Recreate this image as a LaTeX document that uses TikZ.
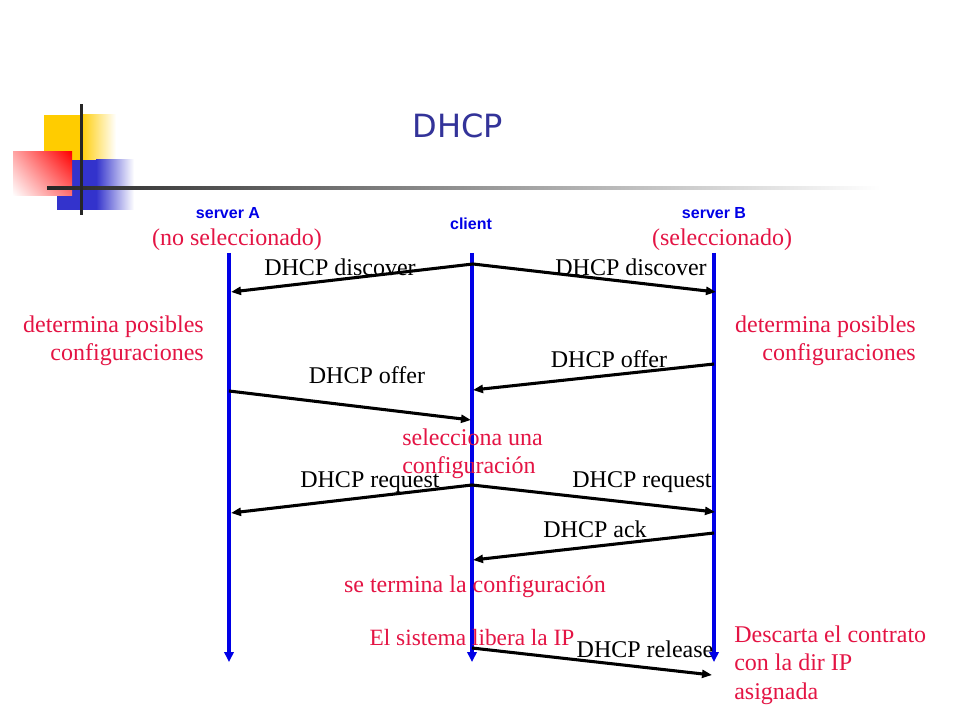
\documentclass[tikz,border=0pt]{standalone}
\usepackage{fontspec}
\setmainfont{Liberation Serif}
\newfontfamily\titlefont{DejaVu Sans}
\newfontfamily\labfont{Liberation Sans}
\usetikzlibrary{arrows.meta,shadings}
\definecolor{titleblue}{RGB}{51,51,153}
\definecolor{notered}{RGB}{228,20,68}
\definecolor{lifeblue}{RGB}{0,0,230}
\definecolor{logoyellow}{RGB}{255,204,0}
\definecolor{logoblue}{RGB}{51,51,204}
\definecolor{logored}{RGB}{255,0,0}
\begin{document}
\begin{tikzpicture}[x=0.75pt,y=-0.75pt,
  lifeline/.style={draw=lifeblue,line width=2.3pt,-{Triangle[length=7.5pt,width=7pt]}},
  msg/.style={draw=black,line width=2.3pt,-{Triangle[length=7.5pt,width=6pt]}},
  msglbl/.style={font=\fontsize{18}{21}\selectfont,inner sep=0pt,anchor=base},
  note/.style={font=\fontsize{18}{21}\selectfont,text=notered,inner sep=0pt},
  srv/.style={font=\labfont\bfseries\fontsize{12}{14}\selectfont,text=lifeblue,inner sep=0pt,anchor=base}]
\useasboundingbox (0,0) rectangle (960,720);
\fill[white] (0,0) rectangle (960,720);
% logo
\fill[logoyellow] (44,115) rectangle (80,160);
\shade[left color=logoyellow,right color=white] (80,115) rectangle (116,160);
\fill[logoblue] (57,160) rectangle (96,210);
\shade[left color=logoblue,right color=white] (96,160) rectangle (134,210);
\shade[upper right=logored,lower left=white,upper left=logored!35!white,lower right=logored!55!white] (13,152) rectangle (72,196);
\shade[left color=black!85,right color=white] (47,186.5) rectangle (880,189.5);
\fill[black!85] (79.5,104) rectangle (82.5,215);
% title
\node[font=\titlefont\fontsize{24}{28}\selectfont,text=titleblue,inner sep=0pt,anchor=base] (title) at (458,138) {DHCP};
% headers
\node[srv] (hA) at (228,219) {server A};
\node[srv] (hC) at (471,230) {client};
\node[srv] (hB) at (714,219) {server B};
\node[note,anchor=base] (nA) at (237,246) {(no seleccionado)};
\node[note,anchor=base] (nB) at (722,246) {(seleccionado)};
% lifelines
\coordinate (A0) at (229,253); \coordinate (A1) at (229,662);
\coordinate (C0) at (472,253); \coordinate (C1) at (472,662);
\coordinate (B0) at (714,253); \coordinate (B1) at (714,662);
\draw[lifeline] (A0) -- (A1);
\draw[lifeline] (C0) -- (C1);
\draw[lifeline] (B0) -- (B1);
% message end points
\coordinate (c1) at (473,264); \coordinate (a1) at (231,292); \coordinate (b1) at (716,292);
\coordinate (b2) at (714,364); \coordinate (c2) at (473,390);
\coordinate (a3) at (229,391); \coordinate (c3) at (471,420);
\coordinate (c4) at (472,485); \coordinate (a4) at (231,513); \coordinate (b4) at (715,512);
\coordinate (b5) at (714,533); \coordinate (c5) at (473,560);
\coordinate (c6) at (472,648); \coordinate (b6) at (712,675);
\draw[msg] (c1) -- (a1);
\draw[msg] (c1) -- (b1);
\draw[msg] (b2) -- (c2);
\draw[msg] (a3) -- (c3);
\draw[msg] (c4) -- (a4);
\draw[msg] (c4) -- (b4);
\draw[msg] (b5) -- (c5);
\draw[msg] (c6) -- (b6);
% message labels
\node[msglbl] (l1) at (340,276) {DHCP discover};
\node[msglbl] (l2) at (631,276) {DHCP discover};
\node[msglbl] (l3) at (609,367) {DHCP offer};
\node[msglbl] (l4) at (367,383) {DHCP offer};
\node[msglbl] (l5) at (370,487) {DHCP request};
\node[msglbl] (l6) at (642,487) {DHCP request};
\node[msglbl] (l7) at (595,537) {DHCP ack};
\node[msglbl] (l8) at (645,657) {DHCP release};
% notes
\node[note,anchor=base east] (dA1) at (204,332) {determina posibles};
\node[note,anchor=base east] (dA2) at (204,360) {configuraciones};
\node[note,anchor=base east] (dB1) at (916,332) {determina posibles};
\node[note,anchor=base east] (dB2) at (916,360) {configuraciones};
\node[note,anchor=base west] (s1) at (402,445) {selecciona una};
\node[note,anchor=base west] (s2) at (402,473) {configuración};
\node[note,anchor=base] (t1) at (475,592) {se termina la configuración};
\node[note,anchor=base,font=\fontsize{17.5}{20}\selectfont] (e1) at (472,645) {El sistema libera la IP};
\node[note,anchor=base west] (x1) at (734,642) {Descarta el contrato};
\node[note,anchor=base west] (x2) at (734,670) {con la dir IP};
\node[note,anchor=base west] (x3) at (734,699) {asignada};
\end{tikzpicture}
\end{document}
